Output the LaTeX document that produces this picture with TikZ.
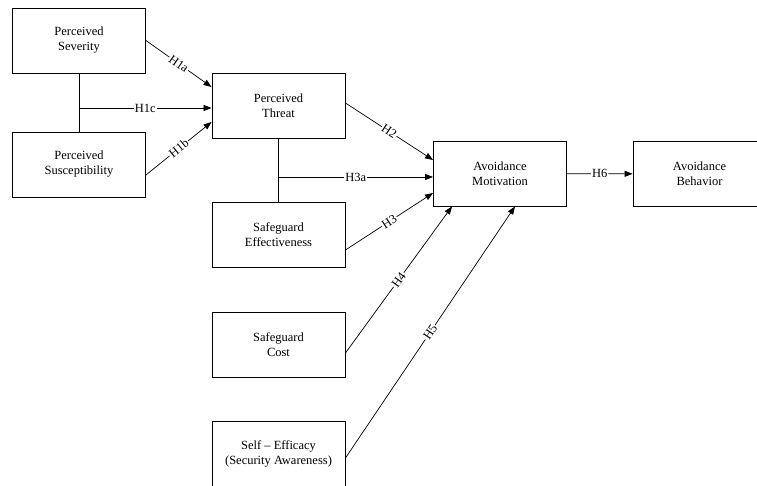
\documentclass[tikz,border=0pt]{standalone}
\usepackage{fontspec}
\setmainfont{Liberation Serif}
\usetikzlibrary{arrows.meta}
\tikzset{
  var/.style={draw,line width=0.9pt,minimum width=133pt,minimum height=65pt,align=center,font=\fontsize{12.5}{15}\selectfont},
  hyp/.style={line width=0.7pt,-{Triangle[length=8pt,width=6pt]}},
  lbl/.style={fill=white,inner sep=1pt,sloped,font=\fontsize{12.5}{15}\selectfont}
}
\begin{document}
\begin{tikzpicture}[x=1pt,y=-1pt]
  \useasboundingbox (0,0) rectangle (757,486);
  \node[var] (sev) at (79,40.5) {Perceived\\Severity};
  \node[var] (sus) at (79,164.5) {Perceived\\Susceptibility};
  \node[var] (thr) at (278.5,105.5) {Perceived\\Threat};
  \node[var] (eff) at (278.5,235) {Safeguard\\Effectiveness};
  \node[var] (cost) at (278.5,344.5) {Safeguard\\Cost};
  \node[var] (self) at (278.5,453.5) {Self -- Efficacy\\(Security Awareness)};
  \node[var] (mot) at (500,173.5) {Avoidance\\Motivation};
  \node[var] (beh) at (699.5,174) {Avoidance\\Behavior};
  \coordinate (j1) at (79,108);
  \coordinate (j2) at (278.5,177);
  \draw[line width=0.7pt] (sev) -- (sus);
  \draw[line width=0.7pt] (thr) -- (eff);
  \draw[hyp] (sev.east) -- node[lbl]{H1a} ([yshift=18.5pt]thr.west);
  \draw[hyp] (j1) -- node[lbl]{H1c} (j1 -| thr.west);
  \draw[hyp] ([yshift=-10.5pt]sus.east) -- node[lbl]{H1b} ([yshift=-16.5pt]thr.west);
  \draw[hyp] ([yshift=2.5pt]thr.east) -- node[lbl]{H2} ([yshift=13.5pt]mot.west);
  \draw[hyp] (j2) -- node[lbl]{H3a} (j2 -| mot.west);
  \draw[hyp] ([yshift=-15pt]eff.east) -- node[lbl]{H3} ([yshift=-19.5pt]mot.west);
  \draw[hyp] ([yshift=-8.5pt]cost.east) -- node[lbl]{H4} ([xshift=-48pt]mot.south);
  \draw[hyp] ([yshift=-4.5pt]self.east) -- node[lbl]{H5} ([xshift=15pt]mot.south);
  \draw[hyp] (mot) -- node[lbl]{H6} (beh);
\end{tikzpicture}
\end{document}
